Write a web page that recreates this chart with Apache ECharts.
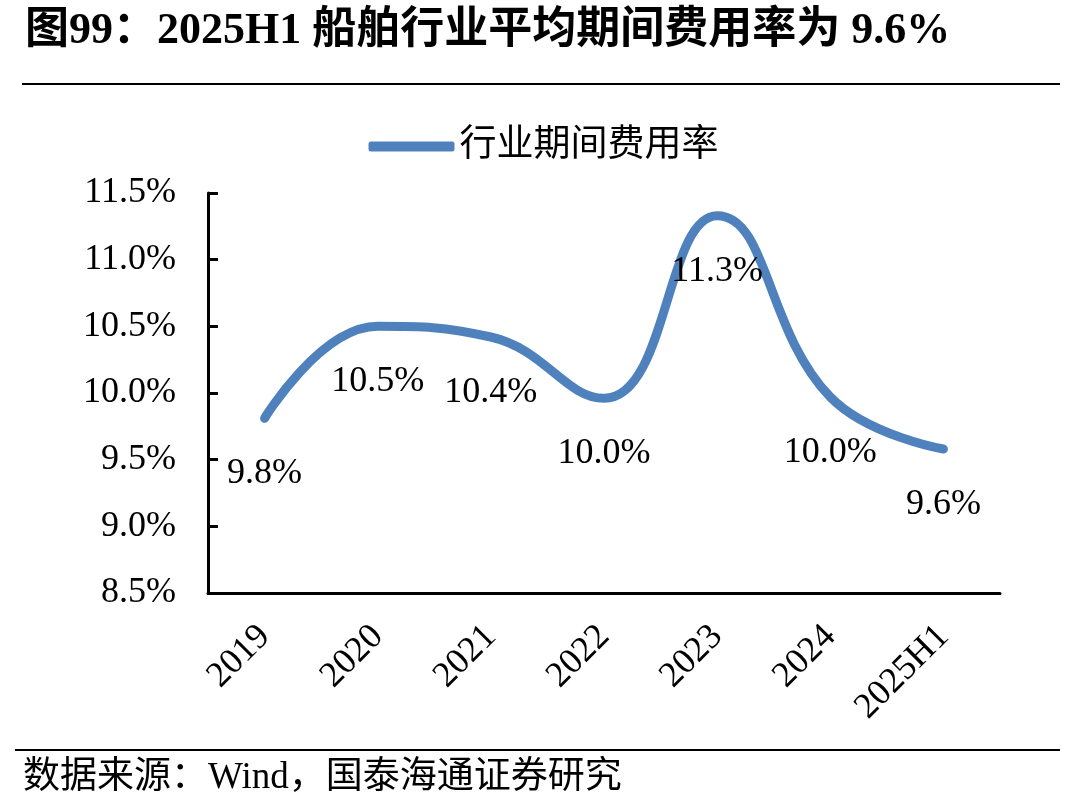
<!DOCTYPE html>
<html lang="zh">
<head>
    <meta charset="UTF-8">
    <title>船舶行业平均期间费用率</title>
    <style>
        html, body { margin: 0; padding: 0; background: #fff; }
    </style>
</head>
<body>
<script src="https://cdn.jsdelivr.net/npm/echarts@6/dist/echarts.min.js"></script>
<div id="main" style="width: 1087px;height:810px;"></div>

<script>
    // 数据
    var years = ['2019', '2020', '2021', '2022', '2023', '2024', '2025H1'];
    var expenseRate = [9.81, 10.50, 10.42, 9.96, 11.33, 9.97, 9.58];
    var yTicks = { min: 8.5, max: 11.5, interval: 0.5 };

    var serif = '"Liberation Serif", "Times New Roman", "Noto Sans CJK SC", serif';
    var lineColor = '#4F81BD';

    var myChart = echarts.init(document.getElementById('main'));

    var option = {
        backgroundColor: '#fff',
        animation: false,
        title: [{
            text: '图99：2025H1 船舶行业平均期间费用率为 9.6%',
            left: 20,
            top: 5,
            textStyle: { fontFamily: serif, fontSize: 44, fontWeight: 'bold', color: '#000' }
        }, {
            text: '数据来源：Wind，国泰海通证券研究',
            left: 18,
            top: 755,
            textStyle: { fontFamily: serif, fontSize: 37, fontWeight: 'normal', color: '#000' }
        }],
        graphic: [{
            type: 'line',
            shape: { x1: 22, y1: 84, x2: 1060, y2: 84 },
            style: { stroke: '#000', lineWidth: 2 }
        }, {
            type: 'line',
            shape: { x1: 15, y1: 750, x2: 1060, y2: 750 },
            style: { stroke: '#000', lineWidth: 2 }
        }],
        legend: {
            left: 'center',
            top: 123,
            icon: 'roundRect',
            itemWidth: 86,
            itemHeight: 10,
            itemGap: 10,
            textStyle: { fontFamily: serif, fontSize: 37, color: '#000' },
            data: [{ name: '行业期间费用率', itemStyle: { color: lineColor } }]
        },
        grid: {
            left: 208,
            right: 87,
            top: 193,
            bottom: 217
        },
        xAxis: {
            type: 'category',
            data: years,
            boundaryGap: true,
            axisLine: { lineStyle: { color: '#000', width: 3 } },
            axisTick: { inside: true, length: 10, lineStyle: { color: '#000', width: 3 } },
            axisLabel: {
                rotate: 45,
                margin: 38,
                fontFamily: serif,
                fontSize: 36,
                color: '#000'
            }
        },
        yAxis: {
            type: 'value',
            min: yTicks.min,
            max: yTicks.max,
            interval: yTicks.interval,
            axisLine: { show: true, lineStyle: { color: '#000', width: 3 } },
            axisTick: { show: true, inside: true, length: 10, lineStyle: { color: '#000', width: 3 } },
            splitLine: { show: false },
            axisLabel: {
                margin: 32,
                fontFamily: serif,
                fontSize: 36,
                color: '#000',
                formatter: function (v) { return v.toFixed(1) + '%'; }
            }
        },
        series: [{
            name: '行业期间费用率',
            type: 'line',
            data: expenseRate,
            smooth: 0.45,
            symbol: 'circle',
            symbolSize: 1,
            showSymbol: true,
            itemStyle: { color: lineColor },
            lineStyle: { color: lineColor, width: 9, cap: 'round' },
            label: {
                show: true,
                position: 'bottom',
                distance: 37,
                fontFamily: serif,
                fontSize: 36,
                color: '#000',
                formatter: function (p) { return p.value.toFixed(1) + '%'; }
            }
        }]
    };

    myChart.setOption(option);
</script>
</body>
</html>
